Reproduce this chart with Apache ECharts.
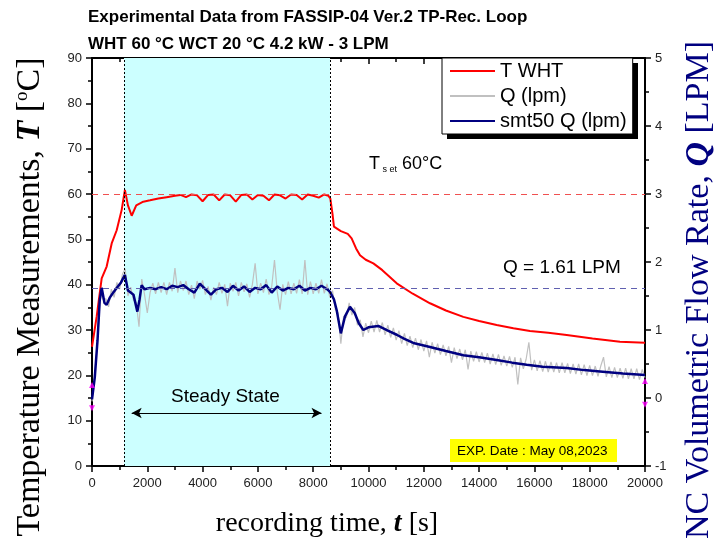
<!DOCTYPE html>
<html>
<head>
<meta charset="utf-8">
<script src="https://cdn.jsdelivr.net/npm/echarts@6/dist/echarts.min.js"></script>
<style>
  html, body { margin: 0; padding: 0; background: #fff; }
  #chart { width: 715px; height: 546px; }
</style>
</head>
<body>
<div id="chart"></div>
<script>
// T WHT (red), time [s] and temperature [°C]
const tempTime = [
  0, 170, 350, 530, 712, 893, 1073, 1190, 1300, 1435, 1600, 1855, 2100, 2400,
  2700, 3000, 3200, 3400, 3600, 3800, 4000, 4200, 4400, 4600, 4800, 5000,
  5200, 5400, 5600, 5800, 6000, 6200, 6400, 6600, 6800, 7000, 7200, 7400,
  7600, 7800, 8000, 8200, 8400, 8550, 8620, 8700, 8750, 9000, 9250, 9390,
  9550, 9693, 9900, 10175, 10500, 11020, 11600, 12224, 12800, 13430, 14000,
  14635, 15240, 15840, 16500, 17167, 18100, 19096, 20000
];
const tempWHT = [
  26.3, 33, 41.4, 44, 49.1, 52, 56.5, 60.9, 57.5, 55.2, 57.5, 58.3, 58.6, 59.0,
  59.3, 59.6, 59.8, 59.3, 59.9, 59.7, 58.4, 59.8, 59.9, 58.6, 59.9, 59.7,
  58.3, 59.8, 59.9, 58.8, 59.8, 59.6, 58.6, 59.9, 59.7, 59.0, 59.9, 59.8,
  58.8, 59.9, 59.6, 59.2, 59.9, 59.6, 59.0, 55.5, 52.8, 51.8, 51.2, 50.2,
  48.0, 46.5, 45.5, 44.7, 43.2, 40.3, 38.0, 35.9, 34.3, 32.9, 32.0,
  31.1, 30.4, 29.8, 29.4, 28.9, 28.1, 27.4, 27.2
];

// smt50 Q (navy), time [s] and flow [LPM]
const smoothTime = [
  0, 100, 200, 280, 350, 450, 530, 650, 750, 900, 1050, 1190, 1300, 1400,
  1500, 1640, 1720, 1795, 1900, 2100, 2300, 2500, 2700, 2900, 3100, 3300,
  3500, 3700, 3900, 4100, 4300, 4500, 4700, 4900, 5100, 5300, 5500, 5700,
  5900, 6100, 6300, 6500, 6700, 6900, 7100, 7300, 7500, 7700, 7900, 8100,
  8300, 8500, 8608, 8750, 8850, 9000, 9150, 9330, 9500, 9650, 9812, 10000,
  10355, 10700, 11020, 11300, 11620, 12224, 12800, 13430, 14000, 14635,
  15200, 15720, 16300, 17167, 17800, 18372, 19200, 20000
];
const smoothQ = [
  -0.02, 0.3, 0.85, 1.44, 1.62, 1.4, 1.37, 1.48, 1.54, 1.62, 1.7, 1.81, 1.58, 1.55,
  1.52, 1.27, 1.45, 1.66, 1.6, 1.62, 1.6, 1.63, 1.6, 1.65, 1.63, 1.66,
  1.6, 1.55, 1.68, 1.6, 1.52, 1.6, 1.62, 1.56, 1.65, 1.58, 1.64, 1.56,
  1.62, 1.6, 1.66, 1.55, 1.64, 1.58, 1.62, 1.6, 1.65, 1.58, 1.62, 1.6,
  1.65, 1.6, 1.56, 1.45, 1.29, 0.95, 1.2, 1.34, 1.25, 1.1, 1.0, 1.04,
  1.06, 0.99, 0.93, 0.87, 0.81, 0.75, 0.69, 0.63, 0.6, 0.56,
  0.52, 0.49, 0.46, 0.44, 0.41, 0.39, 0.36, 0.34
];

// raw Q (lpm), one sample every 100 s from 0 to 20000 s
const rawStep = 100;
const rawQ = [
  -0.05, 0.38, 0.8, 1.55, 1.45, 1.46, 1.34, 1.6, 1.48, 1.7,
  1.6, 1.82, 1.9, 1.5, 1.63, 1.44, 1.4, 1.05, 1.75, 1.52,
  1.25, 1.55, 1.69, 1.53, 1.7, 1.55, 1.7, 1.52, 1.7, 1.57,
  1.91, 1.55, 1.72, 1.58, 1.72, 1.52, 1.66, 1.46, 1.72, 1.6,
  1.73, 1.52, 1.64, 1.44, 1.63, 1.52, 1.7, 1.54, 1.67, 1.35,
  1.69, 1.57, 1.7, 1.5, 1.7, 1.56, 1.68, 1.48, 1.67, 1.98,
  1.53, 1.69, 1.55, 1.75, 1.52, 1.64, 2.03, 1.56, 1.3, 1.67,
  1.52, 1.71, 1.53, 1.69, 1.54, 1.74, 1.53, 2.03, 1.52, 1.71,
  1.53, 1.69, 1.54, 1.74, 1.54, 1.68, 1.48, 1.58, 1.3, 1.25,
  0.8, 1.2, 1.18, 1.4, 1.22, 1.33, 1.07, 1.15, 0.9, 1.1,
  0.96, 1.13, 0.97, 1.14, 0.97, 1.11, 0.93, 1.07, 0.89, 1.03,
  0.85, 0.99, 0.8, 0.95, 0.77, 0.91, 0.74, 0.88, 0.71, 0.86,
  0.69, 0.84, 0.6, 0.82, 0.66, 0.8, 0.64, 0.78, 0.62, 0.76,
  0.52, 0.74, 0.58, 0.72, 0.56, 0.71, 0.42, 0.69, 0.54, 0.68,
  0.53, 0.67, 0.52, 0.66, 0.5, 0.65, 0.49, 0.64, 0.48, 0.62,
  0.47, 0.61, 0.45, 0.6, 0.2, 0.59, 0.43, 0.57, 0.82, 0.41,
  0.56, 0.4, 0.55, 0.39, 0.54, 0.38, 0.53, 0.38, 0.52, 0.37,
  0.52, 0.37, 0.51, 0.36, 0.5, 0.35, 0.5, 0.34, 0.49, 0.33,
  0.48, 0.33, 0.47, 0.32, 0.47, 0.6, 0.31, 0.46, 0.3, 0.45,
  0.3, 0.44, 0.29, 0.44, 0.28, 0.43, 0.28, 0.43, 0.27, 0.42,
  0.3
];

// reference values and steady state window
const setTemp = 60;
const meanQ = 1.61;
const steadyStart = 1157;
const steadyEnd = 8608;
const arrowStart = 1435;
const arrowEnd = 8300;
const arrowLevel = 11.7;

// axis break markers (Q axis)
const leftMarkQ = [0.19, -0.15];
const rightMarkQ = [0.25, -0.1];

const tempData = tempTime.map((t, i) => [t, tempWHT[i]]);
const smoothData = smoothTime.map((t, i) => [t, smoothQ[i]]);
const rawData = rawQ.map((q, i) => [i * rawStep, q]);

const chart = echarts.init(document.getElementById('chart'));

const axisLine = { show: true, onZero: false, lineStyle: { color: '#000', width: 2 } };
const tickStyle = { color: '#000', width: 1.5 };
const labelStyle = {
  fontFamily: 'Liberation Sans, Arial', fontSize: 13, color: '#222',
  formatter: (v) => String(v)
};
const serif = 'Liberation Serif, Times New Roman';
const sans = '"Liberation Sans", Arial';

chart.setOption({
  animation: false,
  backgroundColor: '#fff',
  grid: { left: 92, right: 70, top: 58, bottom: 80, outerBoundsMode: 'none', containLabel: false },
  graphic: [
    {
      type: 'text', left: 88, top: 9, z: 100,
      style: { text: 'Experimental Data from FASSIP-04 Ver.2 TP-Rec. Loop', font: 'bold 17px ' + sans, fill: '#000' }
    },
    {
      type: 'text', left: 88, top: 36, z: 100,
      style: { text: 'WHT 60 °C WCT 20 °C 4.2 kW - 3 LPM', font: 'bold 17px ' + sans, fill: '#000' }
    },
    {
      // left axis title
      type: 'text', x: 30, y: 297, rotation: Math.PI / 2, z: 100,
      style: {
        text: '{a|Temperature Measurements, }{b|T}{a| [}{c|o}{a|C]}',
        align: 'center', verticalAlign: 'middle',
        rich: {
          a: { fontFamily: serif, fontSize: 34, fill: '#000' },
          b: { fontFamily: serif, fontSize: 34, fill: '#000', fontWeight: 'bold', fontStyle: 'italic' },
          c: { fontFamily: serif, fontSize: 19, fill: '#000', verticalAlign: 'top', padding: [0, 0, 12, 0] }
        }
      }
    },
    {
      // right axis title
      type: 'text', x: 699, y: 290, rotation: Math.PI / 2, z: 100,
      style: {
        text: '{a|NC Volumetric Flow Rate, }{b|Q}{a| [LPM]}',
        align: 'center', verticalAlign: 'middle',
        rich: {
          a: { fontFamily: serif, fontSize: 34, fill: '#000080' },
          b: { fontFamily: serif, fontSize: 34, fill: '#000080', fontWeight: 'bold', fontStyle: 'italic' }
        }
      }
    },
    {
      // x axis title
      type: 'text', x: 327, y: 524, z: 100,
      style: {
        text: '{a|recording time, }{b|t}{a| [s]}',
        align: 'center', verticalAlign: 'middle',
        rich: {
          a: { fontFamily: serif, fontSize: 28, fill: '#000' },
          b: { fontFamily: serif, fontSize: 28, fill: '#000', fontWeight: 'bold', fontStyle: 'italic' }
        }
      }
    },
    {
      type: 'text', left: 369, top: 155, z: 100,
      style: {
        text: '{a|T}{s| s et}{a| 60°C}',
        rich: {
          a: { font: '18px ' + sans, fill: '#000' },
          s: { font: '9px ' + sans, fill: '#000', verticalAlign: 'bottom', padding: [12, 0, 0, 0] }
        }
      }
    },
    {
      type: 'text', left: 503, top: 258, z: 100,
      style: { text: 'Q = 1.61 LPM', font: '19px ' + sans, fill: '#000' }
    },
    {
      type: 'text', left: 171, top: 387, z: 100,
      style: { text: 'Steady State', font: '19px ' + sans, fill: '#000' }
    },
    {
      type: 'rect', left: 450, top: 439, z: 100,
      shape: { width: 167, height: 23 },
      style: { fill: '#ffff00' }
    },
    {
      type: 'text', left: 457, top: 444, z: 101,
      style: { text: 'EXP. Date : May 08,2023', font: '13.5px ' + sans, fill: '#000' }
    },
    {
      // legend drop shadow, right strip
      type: 'rect', left: 633, top: 63, z: 100,
      shape: { width: 5, height: 76 },
      style: { fill: '#000' }
    },
    {
      // legend drop shadow, bottom strip
      type: 'rect', left: 447, top: 134, z: 100,
      shape: { width: 191, height: 5 },
      style: { fill: '#000' }
    }
  ],
  legend: {
    orient: 'vertical',
    left: 442, top: 58,
    padding: [3, 6, 3, 8],
    itemGap: 5,
    itemWidth: 45,
    itemHeight: 2,
    icon: 'rect',
    backgroundColor: '#fff',
    borderColor: '#000',
    borderWidth: 1,
    data: ['T WHT', 'Q (lpm)', 'smt50 Q (lpm)'],
    textStyle: { fontFamily: 'Liberation Sans, Arial', fontSize: 20, color: '#000', lineHeight: 20, width: 125 }
  },
  xAxis: [
    {
      type: 'value', min: 0, max: 20000, interval: 2000,
      axisLine: axisLine,
      axisTick: { show: true, length: 6, lineStyle: tickStyle },
      minorTick: { show: true, splitNumber: 2, length: 4, lineStyle: tickStyle },
      axisLabel: Object.assign({ margin: 11 }, labelStyle),
      splitLine: { show: false }
    },
    {
      type: 'value', min: 0, max: 20000, interval: 2000, position: 'top',
      axisLine: axisLine,
      axisTick: { show: true, inside: true, length: 6, lineStyle: tickStyle },
      minorTick: { show: true, splitNumber: 2, length: 4, lineStyle: tickStyle },
      axisLabel: { show: false },
      splitLine: { show: false }
    }
  ],
  yAxis: [
    {
      type: 'value', min: 0, max: 90, interval: 10, position: 'left',
      axisLine: axisLine,
      axisTick: { show: true, length: 6, lineStyle: tickStyle },
      minorTick: { show: true, splitNumber: 2, length: 4, lineStyle: tickStyle },
      axisLabel: Object.assign({ margin: 10 }, labelStyle),
      splitLine: { show: false }
    },
    {
      type: 'value', min: -1, max: 5, interval: 1, position: 'right',
      axisLine: axisLine,
      axisTick: { show: true, length: 6, lineStyle: tickStyle },
      minorTick: { show: true, splitNumber: 2, length: 4, lineStyle: tickStyle },
      axisLabel: Object.assign({ margin: 10 }, labelStyle),
      splitLine: { show: false }
    }
  ],
  series: [
    {
      name: 'steady',
      type: 'line',
      data: [],
      z: 1,
      silent: true,
      markArea: {
        silent: true,
        itemStyle: { color: '#ccffff' },
        data: [[{ xAxis: steadyStart }, { xAxis: steadyEnd }]]
      },
      markLine: {
        silent: true,
        symbol: 'none',
        label: { show: false },
        lineStyle: { color: '#000', type: [2, 2], width: 1 },
        data: [{ xAxis: steadyStart }, { xAxis: steadyEnd }]
      }
    },
    {
      name: 'Q (lpm)',
      type: 'line',
      yAxisIndex: 1,
      data: rawData,
      showSymbol: false,
      symbol: 'none',
      z: 2,
      lineStyle: { color: '#c0c0c0', width: 1.2 },
      itemStyle: { color: '#c0c0c0' }
    },
    {
      name: 'T WHT',
      type: 'line',
      data: tempData,
      showSymbol: false,
      symbol: 'none',
      z: 3,
      lineStyle: { color: '#ff0000', width: 2 },
      itemStyle: { color: '#ff0000' },
      markLine: {
        silent: true,
        symbol: 'none',
        label: { show: false },
        lineStyle: { color: '#f05050', type: [6, 5], width: 1 },
        data: [{ yAxis: setTemp }]
      }
    },
    {
      name: 'smt50 Q (lpm)',
      type: 'line',
      yAxisIndex: 1,
      data: smoothData,
      showSymbol: false,
      symbol: 'none',
      z: 4,
      lineStyle: { color: '#000080', width: 2.5 },
      itemStyle: { color: '#000080' },
      markLine: {
        silent: true,
        symbol: 'none',
        label: { show: false },
        lineStyle: { color: '#6060b0', type: [6, 5], width: 1 },
        data: [{ yAxis: meanQ }]
      }
    },
    {
      name: 'arrow',
      type: 'line',
      data: [],
      z: 5,
      markLine: {
        silent: true,
        symbol: ['arrow', 'arrow'],
        symbolSize: [8, 10],
        label: { show: false },
        lineStyle: { color: '#000', type: 'solid', width: 1 },
        data: [[{ coord: [arrowStart, arrowLevel] }, { coord: [arrowEnd, arrowLevel] }]]
      }
    },
    {
      name: 'marks',
      type: 'scatter',
      yAxisIndex: 1,
      z: 6,
      symbol: 'triangle',
      symbolSize: 6,
      itemStyle: { color: '#ff00ff' },
      data: [
        { value: [0, leftMarkQ[0]] },
        { value: [0, leftMarkQ[1]], symbolRotate: 180 },
        { value: [20000, rightMarkQ[0]] },
        { value: [20000, rightMarkQ[1]], symbolRotate: 180 }
      ]
    }
  ]
});
</script>
</body>
</html>
